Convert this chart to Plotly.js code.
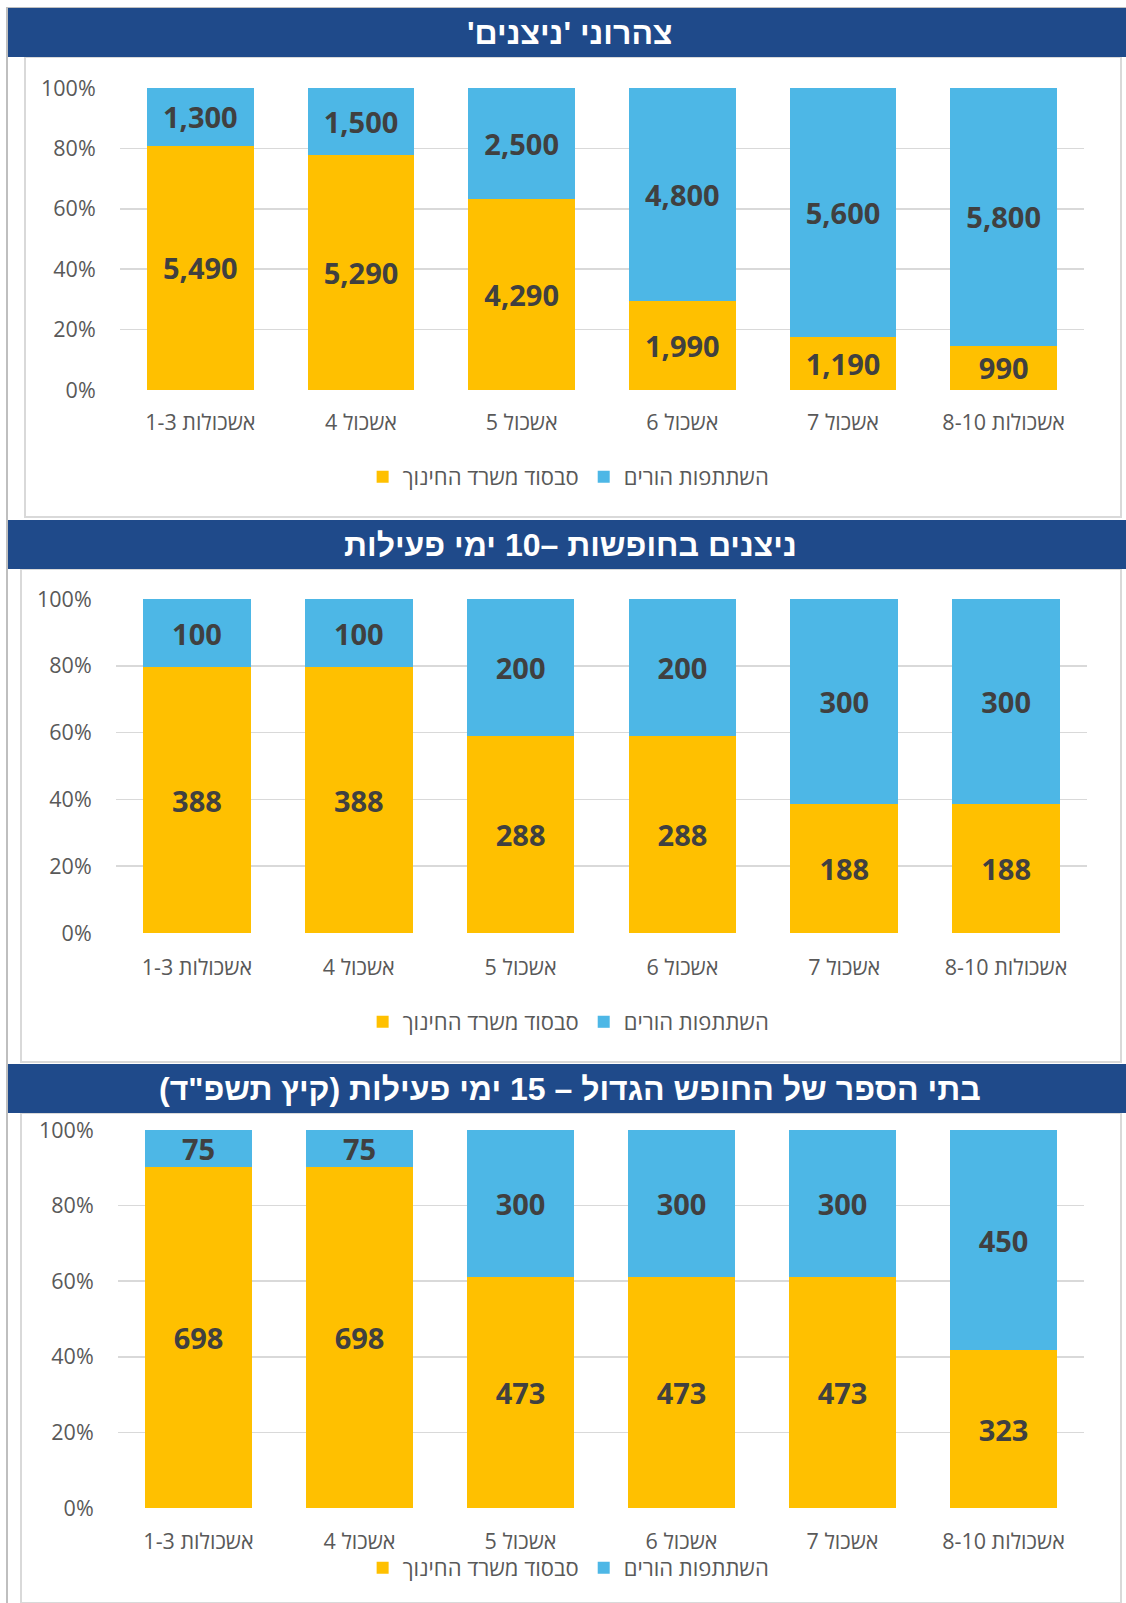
<!DOCTYPE html>
<html>
<head>
<meta charset="utf-8">
<script src="https://cdn.plot.ly/plotly-3.0.1.min.js"></script>
<style>
html,body{margin:0;padding:0;background:#fff;}
#chart{width:1126px;height:1603px;}
</style>
</head>
<body>
<div id="chart"></div>
<script>
// ---- data ----
const categories = ["אשכולות 1-3", "אשכול 4", "אשכול 5", "אשכול 6", "אשכול 7", "אשכולות 8-10"];
const seriesNames = ["סבסוד משרד החינוך", "השתתפות הורים"];
const titles = [
  "צהרוני 'ניצנים'",
  "ניצנים בחופשות –10 ימי פעילות",
  "בתי הספר של החופש הגדול – 15 ימי פעילות (קיץ תשפ\"ד)"
];
const subsidy1 = [5490, 5290, 4290, 1990, 1190, 990];
const parents1 = [1300, 1500, 2500, 4800, 5600, 5800];
const subsidy2 = [388, 388, 288, 288, 188, 188];
const parents2 = [100, 100, 200, 200, 300, 300];
const subsidy3 = [698, 698, 473, 473, 473, 323];
const parents3 = [75, 75, 300, 300, 300, 450];

// ---- styling ----
const W = 1126, H = 1603;
const px = v => v / W;
const py = v => 1 - v / H;
const YELLOW = "#FFC000", BLUE = "#4DB7E6", NAVY = "#1F4A8A";
const HEB = "Open Sans, DejaVu Sans, sans-serif";
const NUM = "Noto Sans, Open Sans, sans-serif";
const TITLEF = "Liberation Sans Narrow, Liberation Sans, DejaVu Sans Condensed, sans-serif";
const fmt = v => v.toLocaleString("en-US");

const panels = [
  {sub: subsidy1, par: parents1, x: [120, 1084], y: [390, 88], bar: [8, 57], box: [25, 57, 1121, 517], legY: 477, tl: 13},
  {sub: subsidy2, par: parents2, x: [116, 1087], y: [933, 599], bar: [520, 569], box: [21, 569, 1121, 1062], legY: 1022, tl: 15},
  {sub: subsidy3, par: parents3, x: [118, 1084], y: [1508, 1130], bar: [1064, 1113], box: [21, 1113, 1121, 1603], legY: 1568, tl: 14}
];

const traces = [];
const layout = {
  width: W, height: H,
  margin: {l: 0, r: 0, t: 0, b: 0},
  paper_bgcolor: "#fff",
  plot_bgcolor: "rgba(0,0,0,0)",
  barmode: "stack",
  barnorm: "percent",
  bargap: 0.335,
  showlegend: true,
  shapes: [],
  annotations: []
};

// page frame
layout.shapes.push({type: "line", xref: "paper", yref: "paper", x0: px(7), x1: px(7), y0: py(8), y1: 0, line: {color: "#BFBFBF", width: 2}, layer: "below"});
layout.shapes.push({type: "line", xref: "paper", yref: "paper", x0: px(6), x1: 1, y0: py(8), y1: py(8), line: {color: "#BFBFBF", width: 2}, layer: "below"});

panels.forEach((p, i) => {
  const n = i === 0 ? "" : String(i + 1);
  const xa = "x" + n, ya = "y" + n;
  const leg = "legend" + n;
  const common = {
    type: "bar", x: categories, xaxis: xa, yaxis: ya, legend: leg,
    textposition: "inside", insidetextanchor: "middle", textangle: 0,
    constraintext: "none",
    textfont: {family: NUM, size: 29, color: "#404040", weight: 700},
    hoverinfo: "skip"
  };
  traces.push(Object.assign({}, common, {
    y: p.sub, name: seriesNames[0],
    marker: {color: YELLOW, line: {width: 0}},
    text: p.sub.map(fmt)
  }));
  traces.push(Object.assign({}, common, {
    y: p.par, name: seriesNames[1],
    marker: {color: BLUE, line: {width: 0}},
    text: p.par.map(fmt)
  }));
  layout["xaxis" + n] = {
    domain: [px(p.x[0]), px(p.x[1])],
    anchor: ya,
    type: "category",
    showgrid: false, zeroline: false, showline: false,
    ticks: "outside", ticklen: p.tl, tickcolor: "rgba(0,0,0,0)",
    tickfont: {family: HEB, size: 21.5, color: "#595959"},
    fixedrange: true
  };
  layout["yaxis" + n] = {
    domain: [py(p.y[0]), py(p.y[1])],
    anchor: xa,
    range: [0, 100],
    dtick: 20, tick0: 0,
    ticksuffix: "%",
    showgrid: true, gridcolor: "#D9D9D9", gridwidth: 1.5,
    zeroline: false, showline: false,
    ticks: "outside", ticklen: 19, tickcolor: "rgba(0,0,0,0)",
    tickfont: {family: HEB, size: 21.5, color: "#595959"},
    fixedrange: true
  };
  layout[leg] = {
    orientation: "h", x: 0.505, xanchor: "center",
    y: py(p.legY), yanchor: "middle",
    traceorder: "normal",
    font: {family: HEB, size: 22, color: "#595959"},
    bgcolor: "rgba(0,0,0,0)",
    itemwidth: 30
  };
  // panel box
  layout.shapes.push({type: "rect", xref: "paper", yref: "paper",
    x0: px(p.box[0]), x1: px(p.box[2]), y0: py(p.box[3]), y1: py(p.box[1]),
    line: {color: "#D9D9D9", width: 2}, fillcolor: "rgba(0,0,0,0)", layer: "below"});
  // title bar
  layout.shapes.push({type: "rect", xref: "paper", yref: "paper",
    x0: px(8), x1: 1, y0: py(p.bar[1]), y1: py(p.bar[0]),
    line: {width: 0}, fillcolor: NAVY, layer: "above"});
  layout.annotations.push({
    xref: "paper", yref: "paper", x: px(570), y: py((p.bar[0] + p.bar[1]) / 2),
    xanchor: "center", yanchor: "middle", showarrow: false,
    text: "<b>" + titles[i] + "\u200F</b>",
    font: {family: TITLEF, size: 32, color: "#FFFFFF"}
  });
});

Plotly.newPlot("chart", traces, layout, {staticPlot: true, displayModeBar: false});
</script>
</body>
</html>
